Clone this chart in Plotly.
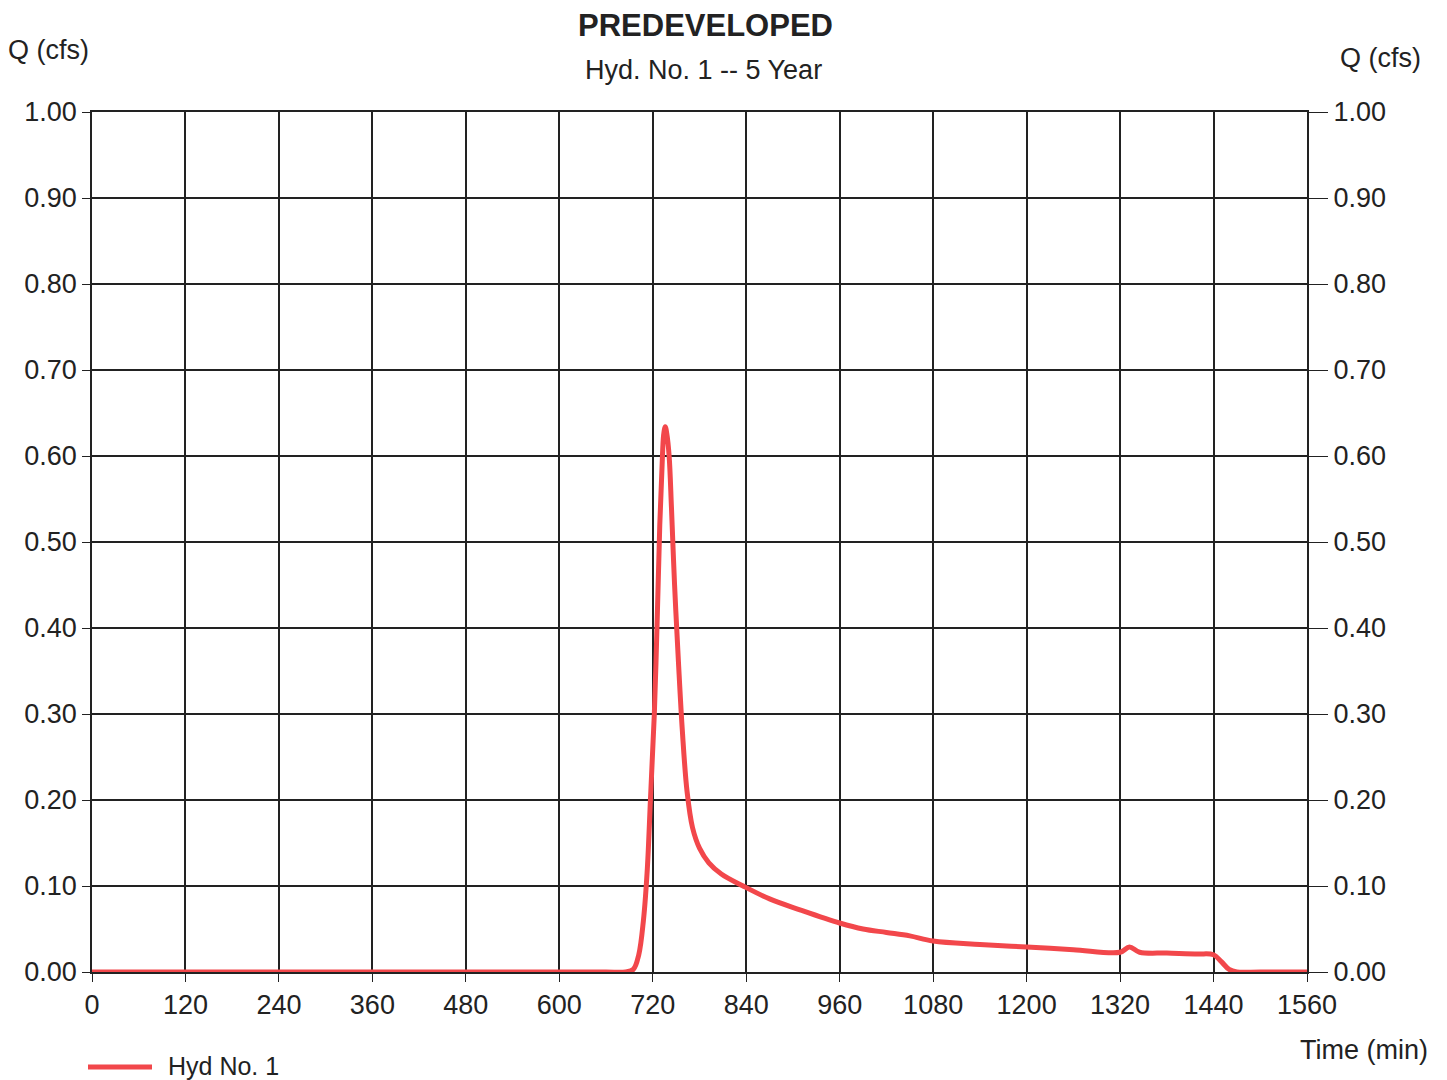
import plotly.graph_objects as go

time_min = [0, 120, 240, 360, 480, 600, 660, 685, 695, 702, 708, 713, 717, 722, 726, 729, 732, 734, 736, 738, 741, 744, 748, 753, 758, 764, 771, 780, 792, 808, 836, 870, 910, 960, 990, 1020, 1050, 1080, 1140, 1200, 1260, 1320, 1332, 1345, 1380, 1420, 1440, 1450, 1460, 1470, 1500, 1560]
flow_cfs = [0.0, 0.0, 0.0, 0.0, 0.0, 0.0, 0.0, 0.0, 0.003, 0.02, 0.06, 0.12, 0.20, 0.30, 0.42, 0.52, 0.59, 0.625, 0.634, 0.626, 0.60, 0.54, 0.45, 0.36, 0.28, 0.21, 0.168, 0.144, 0.127, 0.114, 0.10, 0.085, 0.072, 0.057, 0.050, 0.046, 0.042, 0.036, 0.032, 0.029, 0.026, 0.023, 0.029, 0.023, 0.022, 0.021, 0.020, 0.012, 0.003, 0.0, 0.0, 0.0]

x_ticks = list(range(0, 1561, 120))
y_ticks = [round(i * 0.1, 1) for i in range(11)]
y_labels = [f"{v:.2f}" for v in y_ticks]

FONT = "Liberation Sans, Arial, sans-serif"
RED = "#f2474b"
INK = "#222222"
FS = 27

fig = go.Figure()
fig.add_trace(go.Scatter(
    x=time_min, y=flow_cfs, mode="lines", name="Hyd No. 1",
    line=dict(color=RED, width=5, shape="spline", smoothing=1.0),
    showlegend=False,
))
fig.add_trace(go.Scatter(
    x=[0, 1560], y=[0, 0], mode="lines", yaxis="y2", showlegend=False,
    line=dict(width=0), hoverinfo="skip",
))

# page body has an 8px margin, so the figure is drawn offset by 8px
OFF = 8
W, H = 1447 - OFF, 1080 - OFF
L, T = 92 - OFF, 112 - OFF
R, B = 1447 - 1307, 1080 - 972
pw, ph = W - L - R, H - T - B

def px_x(p):
    return (p - OFF - L) / pw

def px_y(p):
    return (H - B - (p - OFF)) / ph

fig.update_layout(
    width=W, height=H,
    paper_bgcolor="white", plot_bgcolor="white",
    margin=dict(l=L, r=R, t=T, b=B, autoexpand=False),
    font=dict(family=FONT, size=FS, color=INK),
    showlegend=False,
    xaxis=dict(range=[0, 1560], tickvals=x_ticks, ticktext=[str(v) for v in x_ticks],
               showgrid=True, gridcolor=INK, gridwidth=1.6,
               showline=True, linecolor=INK, linewidth=1.6, mirror=True,
               ticks="outside", ticklen=8, tickcolor=INK, zeroline=False,
               tickfont=dict(size=FS)),
    yaxis=dict(range=[0, 1], tickvals=y_ticks, ticktext=y_labels,
               showgrid=True, gridcolor=INK, gridwidth=1.6,
               showline=True, linecolor=INK, linewidth=1.6, mirror=True,
               ticks="outside", ticklen=8, tickcolor=INK, zeroline=False,
               tickfont=dict(size=FS)),
    yaxis2=dict(range=[0, 1], tickvals=y_ticks, ticktext=y_labels, overlaying="y",
                side="right", showgrid=False, zeroline=False,
                ticks="outside", ticklen=20, tickcolor=INK,
                tickfont=dict(size=FS)),
    shapes=[
        dict(type="line", xref="paper", yref="paper",
             x0=px_x(88), x1=px_x(152), y0=px_y(1067), y1=px_y(1067),
             line=dict(color=RED, width=5)),
    ],
    annotations=[
        dict(text="<b>PREDEVELOPED</b>", x=px_x(705), y=px_y(25), xref="paper", yref="paper",
             showarrow=False, font=dict(size=31, color=INK), xanchor="center", yanchor="middle"),
        dict(text="Hyd. No. 1 -- 5 Year", x=px_x(704), y=px_y(70), xref="paper", yref="paper",
             showarrow=False, font=dict(size=FS, color=INK), xanchor="center", yanchor="middle"),
        dict(text="Q (cfs)", x=px_x(48), y=px_y(50), xref="paper", yref="paper",
             showarrow=False, font=dict(size=FS, color=INK), xanchor="center", yanchor="middle"),
        dict(text="Q (cfs)", x=px_x(1380), y=px_y(58), xref="paper", yref="paper",
             showarrow=False, font=dict(size=FS, color=INK), xanchor="center", yanchor="middle"),
        dict(text="Time (min)", x=px_x(1364), y=px_y(1050), xref="paper", yref="paper",
             showarrow=False, font=dict(size=FS, color=INK), xanchor="center", yanchor="middle"),
        dict(text="Hyd No. 1", x=px_x(166), y=px_y(1066), xref="paper", yref="paper",
             showarrow=False, font=dict(size=FS - 2, color=INK), xanchor="left", yanchor="middle"),
    ],
)

fig.write_html("out.html")
